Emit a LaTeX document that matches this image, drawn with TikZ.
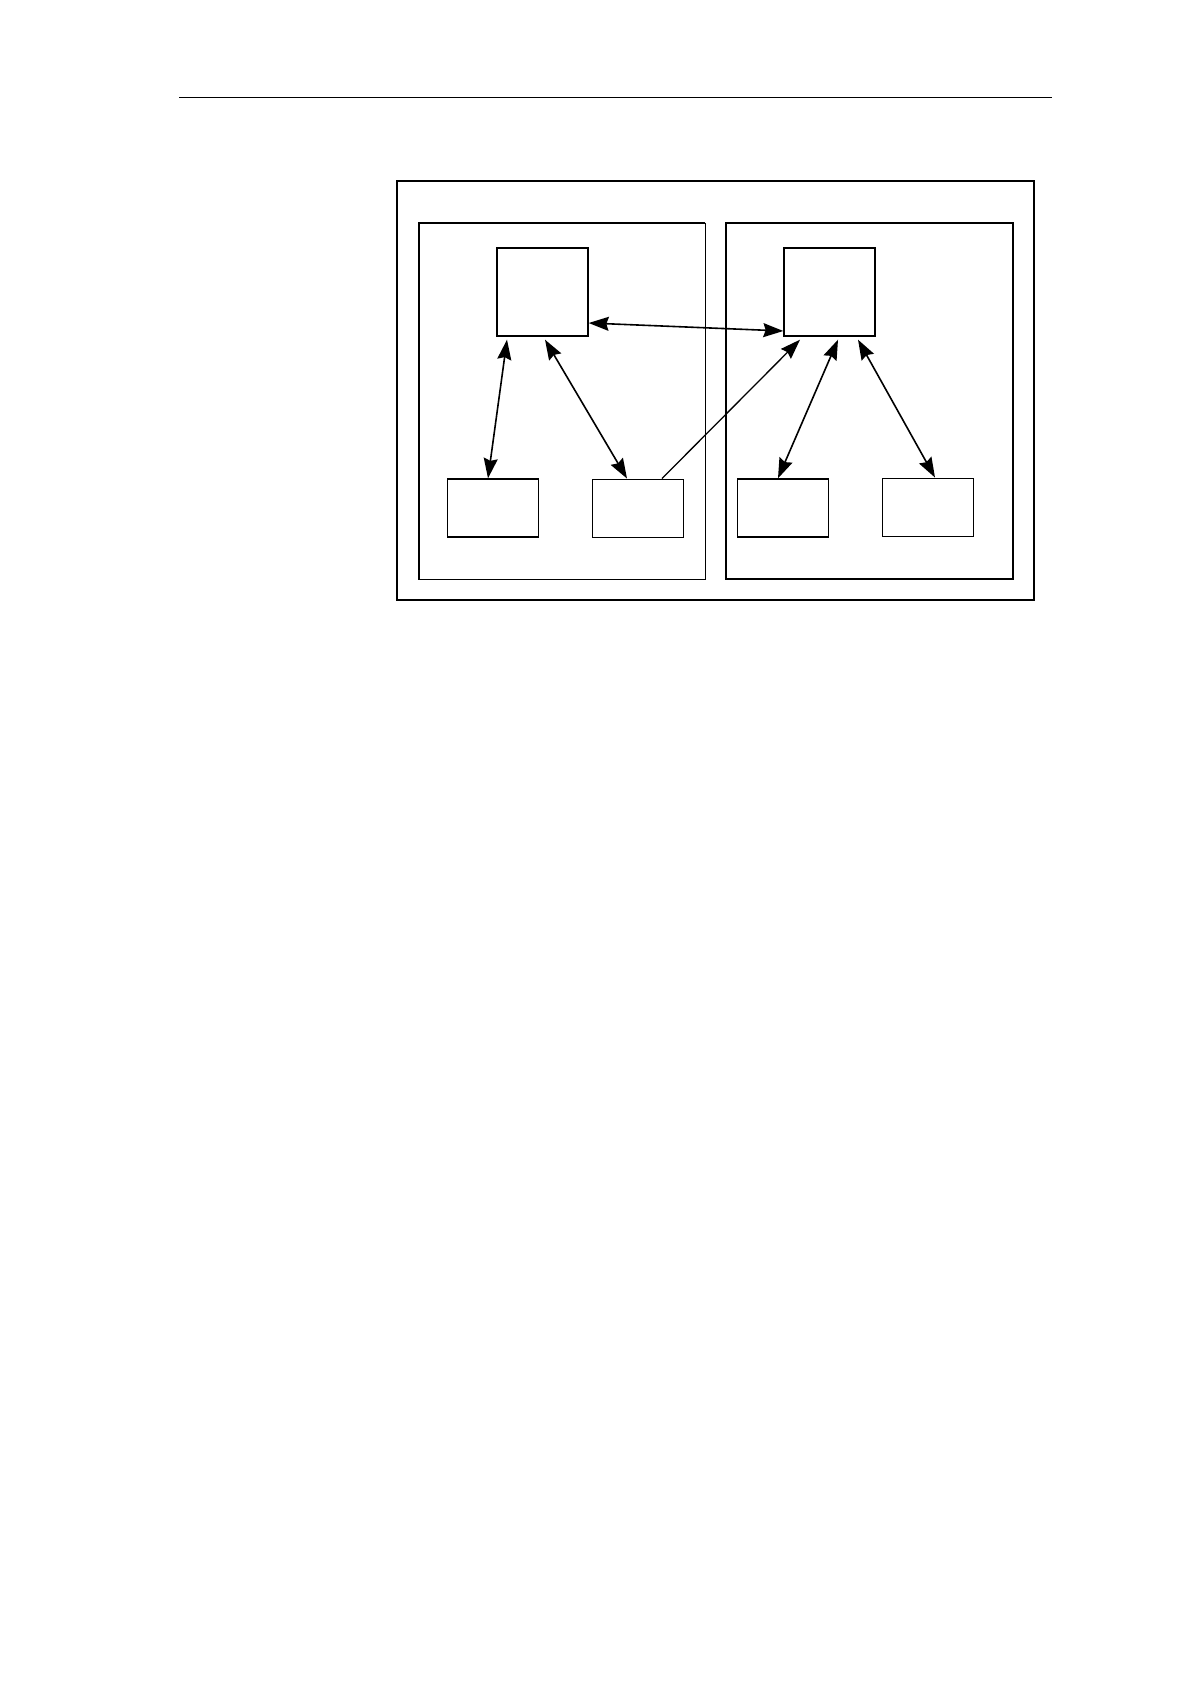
\documentclass[tikz,border=0pt]{standalone}
\usetikzlibrary{arrows.meta,calc}

\tikzset{
  frame/.style={draw,line width=0.7pt,inner sep=0pt},
  hub/.style={frame,minimum width=45.5pt,minimum height=44pt},
  leaf/.style={frame,minimum width=45.5pt,minimum height=29pt},
  thinleaf/.style={leaf,line width=0.45pt},
  tip/.tip={Stealth[length=10pt,width=7pt,inset=1.2pt]},
  link/.style={line width=0.8pt,tip-tip},
  oneway/.style={line width=0.65pt,-tip}
}

\begin{document}
\begin{tikzpicture}[x=0.5pt,y=-0.5pt]
  \useasboundingbox (0,0) rectangle (1190,1684);
  \draw[line width=0.5pt] (179,98) -- (1052,98);
  \node[frame,line width=0.6pt,minimum width=318.5pt,minimum height=209.5pt] (sys) at (715.5,390.5) {};
  \node[frame,line width=0.4pt,minimum width=143pt,minimum height=178pt] (left) at (562,401) {};
  \draw[line width=0.7pt] (left.north east) -- (left.north west) -- (left.south west) -- (left.south east);
  \node[frame,minimum width=143.5pt,minimum height=178pt] (right) at (869.5,401) {};
  \node[hub] (A) at (542.5,292) {};
  \node[hub] (B) at (829.5,292) {};
  \node[leaf] (C1) at (493,508) {};
  \node[thinleaf] (C2) at (637.5,508) {};
  \node[leaf] (C3) at (783,508) {};
  \node[thinleaf] (C4) at (927.5,507) {};
  \draw[link] ($(A.east)+(0,31)$) -- ($(B.west)+(0,39)$);
  \draw[link] ($(A.south)+(-35.5,3)$) -- ($(C1.north)+(-5,0)$);
  \draw[link] ($(A.south)+(2.5,3)$) -- ($(C2.north)+(-10.5,0)$);
  \draw[oneway] ($(C2.north)+(24.5,0)$) -- ($(B.south)+(-29.5,3)$);
  \draw[link] ($(B.south)+(8.5,3)$) -- ($(C3.north)+(-5,0)$);
  \draw[link] ($(B.south)+(28.5,3)$) -- ($(C4.north)+(7.5,0)$);
\end{tikzpicture}
\end{document}
